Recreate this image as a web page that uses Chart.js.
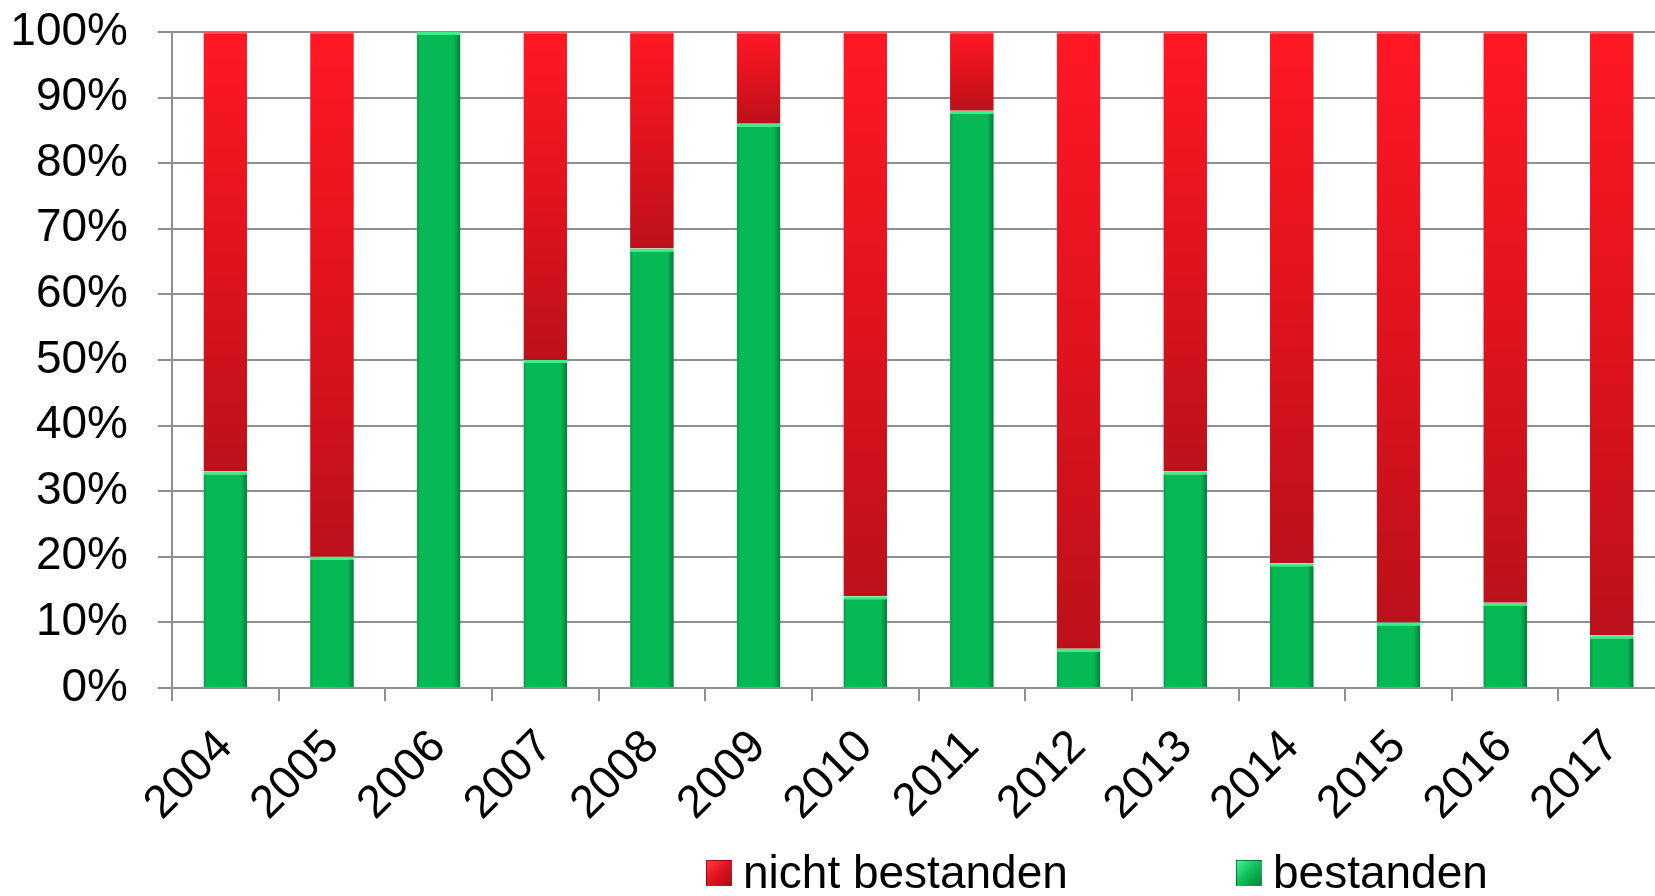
<!DOCTYPE html>
<html>
<head>
<meta charset="utf-8">
<script src="https://cdn.jsdelivr.net/npm/chart.js@4.4.0/dist/chart.umd.min.js"></script>
<style>
  html, body { margin: 0; padding: 0; background: #fff; overflow: hidden; }
  #wrap { position: relative; width: 1670px; height: 896px; }
  #legend { position: absolute; left: 0; top: 0; font-family: "Liberation Sans", Arial, sans-serif; font-size: 46px; color: #000; }
  .item { position: absolute; white-space: nowrap; line-height: 46px; }
  .box { position: absolute; width: 26px; height: 26px; box-sizing: border-box; border: 1px solid rgba(0,0,0,0.25); }
</style>
</head>
<body>
<div id="wrap">
  <canvas id="chart"></canvas>
  <div id="legend"></div>
</div>
<script>
const years = ['2004', '2005', '2006', '2007', '2008', '2009', '2010', '2011', '2012', '2013', '2014', '2015', '2016', '2017'];
const bestanden = [33, 20, 100, 50, 67, 86, 14, 88, 6, 33, 19, 10, 13, 8];
const nichtBestanden = [67, 80, 0, 50, 33, 14, 86, 12, 94, 67, 81, 90, 87, 92];
const seriesNames = ['bestanden', 'nicht bestanden'];

const FONT = '"Liberation Sans", Arial, sans-serif';
const GRID = '#8f8f8f';
const BAR_FRAC = 0.41;

// red part: bright on top, darker towards the bottom of each segment
function redFill(c) {
  const chart = c.chart;
  if (!chart.chartArea) return '#d8121d';
  const y = chart.scales.y;
  const top = y.getPixelForValue(100);
  const bottom = y.getPixelForValue(bestanden[c.dataIndex]);
  if (bottom - top < 2) return '#f0131f';
  const g = chart.ctx.createLinearGradient(0, top, 0, bottom);
  g.addColorStop(0, '#ff1824');
  g.addColorStop(0.5, '#e0131e');
  g.addColorStop(1, '#bc111b');
  return g;
}

// green part: flat with darker edges
function greenFill(c) {
  const chart = c.chart;
  if (!chart.chartArea) return '#06b853';
  const x = chart.scales.x;
  const cx = x.getPixelForValue(c.dataIndex);
  const half = (x.width / years.length) * BAR_FRAC / 2;
  const g = chart.ctx.createLinearGradient(cx - half, 0, cx + half, 0);
  g.addColorStop(0, '#079a46');
  g.addColorStop(0.08, '#06b955');
  g.addColorStop(0.85, '#06b955');
  g.addColorStop(1, '#047c37');
  return g;
}

const chart = new Chart(document.getElementById('chart'), {
  type: 'bar',
  data: {
    labels: years,
    datasets: [
      { label: seriesNames[0], data: bestanden, backgroundColor: greenFill,
        borderColor: '#3def89', borderWidth: { top: 3, left: 0, right: 0, bottom: 0 }, borderSkipped: false },
      { label: seriesNames[1], data: nichtBestanden, backgroundColor: redFill,
        borderColor: '#ff4f58', borderWidth: { top: 2, left: 0, right: 0, bottom: 0 }, borderSkipped: false }
    ]
  },
  options: {
    responsive: true,
    maintainAspectRatio: false,
    animation: false,
    barPercentage: BAR_FRAC,
    categoryPercentage: 1,
    layout: { padding: { top: 32, right: 4, left: 0, bottom: 0 } },
    plugins: {
      legend: { display: false },
      tooltip: { enabled: false }
    },
    scales: {
      x: {
        stacked: true,
        grid: { drawOnChartArea: false, color: GRID, lineWidth: 2, tickLength: 13, offset: true },
        border: { color: GRID, width: 2 },
        ticks: {
          color: '#000',
          font: { family: FONT, size: 46 },
          minRotation: 45,
          maxRotation: 45,
          autoSkip: false,
          padding: 19
        },
        afterFit: s => { s.height = 896 - 688; s.paddingTop = 0; s.paddingBottom = 0; }
      },
      y: {
        stacked: true,
        min: 0,
        max: 100,
        grid: { color: GRID, lineWidth: 2, tickLength: 14 },
        border: { color: GRID, width: 2 },
        ticks: {
          stepSize: 10,
          color: '#000',
          font: { family: FONT, size: 46 },
          padding: 30,
          callback: v => v + '%'
        },
        afterFit: s => { s.width = 172; s.paddingTop = 0; s.paddingBottom = 0; }
      }
    }
  }
});

// legend below the plot, in the reference order
const legendEl = document.getElementById('legend');
const legendItems = [
  { text: seriesNames[1], left: 706, bg: 'linear-gradient(135deg, #ff3a44 0%, #e0131e 50%, #a80d16 100%)' },
  { text: seriesNames[0], left: 1236, bg: 'linear-gradient(135deg, #4af08f 0%, #0cbf5a 50%, #05863c 100%)' }
];
legendItems.forEach(it => {
  const box = document.createElement('div');
  box.className = 'box';
  box.style.left = it.left + 'px';
  box.style.top = '860px';
  box.style.background = it.bg;
  legendEl.appendChild(box);
  const lab = document.createElement('div');
  lab.className = 'item';
  lab.style.left = (it.left + 37) + 'px';
  lab.style.top = '849px';
  lab.textContent = it.text;
  legendEl.appendChild(lab);
});
</script>
</body>
</html>
